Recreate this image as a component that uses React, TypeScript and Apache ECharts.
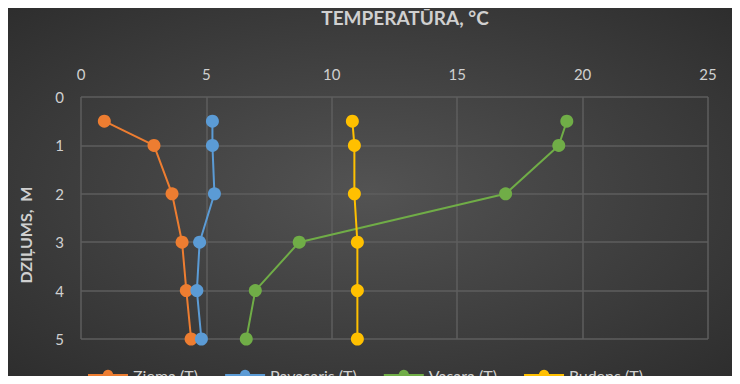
import React, { useEffect, useRef } from "react";
import * as echarts from "echarts";

const depths = [0.5, 1, 2, 3, 4, 5];
const ziema = [0.93, 2.91, 3.63, 4.03, 4.2, 4.39];
const pavasaris = [5.24, 5.24, 5.32, 4.73, 4.62, 4.8];
const vasara = [19.37, 19.05, 16.93, 8.7, 6.95, 6.59];
const rudens = [10.82, 10.9, 10.9, 11.02, 11.02, 11.02];
const seriesNames = ["Ziema (T)", "Pavasaris (T)", "Vasara (T)", "Rudens (T)"];
const seriesColors = ["#ED7D31", "#5B9BD5", "#70AD47", "#FFC000"];
const title = "TEMPERATŪRA, °C";
const yTitle = "DZIĻUMS,  M";

const FONT = "Lato, 'Open Sans', sans-serif";

export default function App() {
  const ref = useRef<HTMLDivElement>(null);
  useEffect(() => {
    if (!ref.current) return;
    const chart = echarts.init(ref.current, undefined, { renderer: "svg" });
    const values = [ziema, pavasaris, vasara, rudens];
    chart.setOption({
      animation: false,
      backgroundColor: {
        type: "radial",
        x: 0.5,
        y: 0.5,
        r: 0.75,
        colorStops: [
          { offset: 0, color: "#535353" },
          { offset: 1, color: "#2a2a2a" },
        ],
      },
      title: {
        text: title,
        left: 400,
        top: 3,
        textAlign: "center",
        textStyle: { color: "#d0d0d0", fontSize: 19, fontWeight: "bold", fontFamily: FONT },
      },
      graphic: [
        {
          type: "text",
          x: 25,
          y: 235,
          rotation: Math.PI / 2,
          style: {
            text: yTitle,
            fill: "#d0d0d0",
            font: `bold 16px ${FONT}`,
            textAlign: "center",
            textVerticalAlign: "middle",
          },
        },
      ],
      grid: { left: 81, top: 97, right: 32, bottom: 45 },
      legend: {
        left: 82,
        top: 362,
        itemWidth: 40,
        itemHeight: 13,
        itemGap: 26,
        textStyle: { color: "#d0d0d0", fontSize: 16, fontFamily: FONT },
        data: seriesNames,
      },
      xAxis: {
        type: "value",
        position: "top",
        min: 0,
        max: 25,
        interval: 5,
        axisLine: { show: false },
        axisTick: { show: false },
        axisLabel: { color: "#d0d0d0", fontSize: 15, margin: 16, fontFamily: FONT },
        splitLine: { show: true, lineStyle: { color: "#5e5e5e", width: 1.5 } },
      },
      yAxis: {
        type: "value",
        inverse: true,
        min: 0,
        max: 5,
        interval: 1,
        axisLine: { show: false },
        axisTick: { show: false },
        axisLabel: { color: "#d0d0d0", fontSize: 15, margin: 17, fontFamily: FONT },
        splitLine: { show: true, lineStyle: { color: "#5e5e5e", width: 1.5 } },
      },
      series: seriesNames.map((name, i) => ({
        name,
        type: "line",
        symbol: "circle",
        symbolSize: 13,
        color: seriesColors[i],
        lineStyle: { width: 2, color: seriesColors[i] },
        itemStyle: { color: seriesColors[i] },
        data: depths.map((d, j) => [values[i][j], d]),
      })),
    });
    return () => chart.dispose();
  }, []);
  return (
    <div style={{ margin: -8, width: 740, height: 384, overflow: "hidden" }}>
      <div ref={ref} style={{ width: 740, height: 384 }} />
    </div>
  );
}
